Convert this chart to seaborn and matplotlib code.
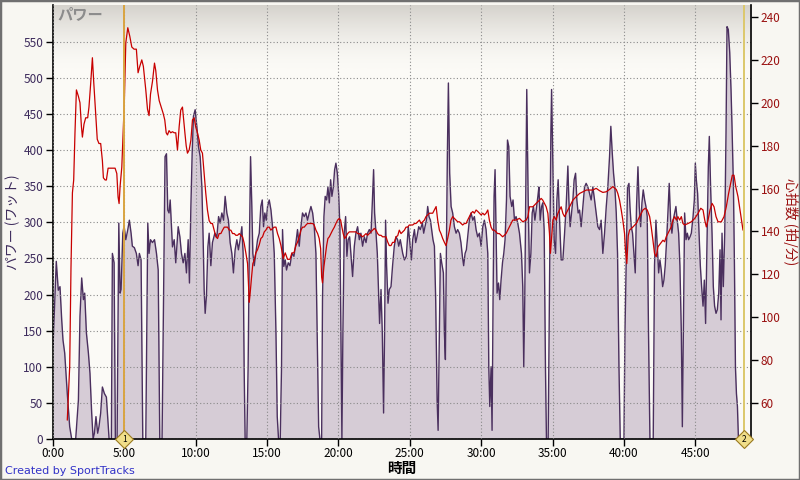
import numpy as np
import pandas as pd
import matplotlib
matplotlib.use('Agg')
import matplotlib.pyplot as plt
import seaborn as sns
from matplotlib.colors import LinearSegmentedColormap
from matplotlib.patches import Rectangle

sns.set_theme(style='white')
plt.rcParams['font.family'] = ['Noto Sans CJK JP', 'DejaVu Sans']
plt.rcParams['axes.unicode_minus'] = False

# ---- data (time in minutes) ----
power_min = [0.00, 0.23, 0.37, 0.49, 0.61, 0.70, 0.82, 1.00, 1.17, 1.31, 1.59, 1.78, 1.89, 2.01, 2.13, 2.22,
             2.34, 2.48, 2.59, 2.71, 2.81, 2.90, 3.01, 3.13, 3.22, 3.34, 3.46, 3.60, 3.74, 3.83, 3.93, 4.09,
             4.16, 4.28, 4.37, 4.49, 4.61, 4.70, 4.77, 4.89, 4.98, 5.10, 5.24, 5.35, 5.47, 5.56, 5.70, 5.84,
             5.96, 6.05, 6.17, 6.29, 6.50, 6.64, 6.73, 6.83, 6.97, 7.11, 7.25, 7.37, 7.48, 7.64, 7.76, 7.85,
             7.95, 8.04, 8.13, 8.21, 8.37, 8.49, 8.60, 8.77, 8.89, 9.00, 9.12, 9.24, 9.35, 9.47, 9.56, 9.66,
             9.75, 9.84, 9.96, 10.08, 10.19, 10.31, 10.43, 10.52, 10.59, 10.66, 10.75, 10.85, 10.94, 11.06,
             11.17, 11.34, 11.48, 11.60, 11.71, 11.83, 11.95, 12.06, 12.18, 12.29, 12.41, 12.53, 12.64, 12.76,
             12.88, 12.99, 13.11, 13.23, 13.32, 13.39, 13.46, 13.58, 13.67, 13.74, 13.84, 13.93, 14.00, 14.10,
             14.21, 14.33, 14.45, 14.56, 14.66, 14.75, 14.84, 14.94, 15.03, 15.15, 15.27, 15.38, 15.50, 15.62,
             15.71, 15.80, 15.92, 16.01, 16.08, 16.17, 16.27, 16.36, 16.48, 16.60, 16.74, 16.88, 17.02, 17.13,
             17.25, 17.37, 17.48, 17.60, 17.72, 17.83, 17.95, 18.07, 18.19, 18.30, 18.42, 18.51, 18.61, 18.70,
             18.82, 18.88, 18.98, 19.07, 19.17, 19.26, 19.36, 19.45, 19.54, 19.64, 19.73, 19.82, 19.92, 20.01,
             20.10, 20.17, 20.24, 20.31, 20.40, 20.50, 20.59, 20.68, 20.78, 20.87, 20.99, 21.11, 21.22, 21.34,
             21.46, 21.57, 21.69, 21.81, 21.93, 22.04, 22.16, 22.28, 22.37, 22.46, 22.53, 22.63, 22.72, 22.81,
             22.88, 22.98, 23.07, 23.16, 23.23, 23.30, 23.37, 23.47, 23.56, 23.68, 23.79, 23.91, 24.03, 24.14,
             24.22, 24.33, 24.50, 24.62, 24.75, 24.89, 25.00, 25.11, 25.20, 25.32, 25.41, 25.50, 25.62, 25.73,
             25.88, 25.97, 26.06, 26.16, 26.25, 26.34, 26.44, 26.53, 26.62, 26.72, 26.81, 26.91, 26.98, 27.07,
             27.14, 27.23, 27.35, 27.42, 27.49, 27.56, 27.63, 27.70, 27.79, 27.89, 28.00, 28.12, 28.24, 28.35,
             28.47, 28.58, 28.68, 28.77, 28.87, 28.96, 29.05, 29.17, 29.29, 29.41, 29.52, 29.64, 29.75, 29.87,
             29.99, 30.11, 30.22, 30.34, 30.46, 30.53, 30.60, 30.69, 30.76, 30.83, 30.90, 30.97, 31.04, 31.11,
             31.21, 31.30, 31.39, 31.49, 31.58, 31.67, 31.77, 31.84, 31.93, 32.02, 32.14, 32.23, 32.33, 32.44,
             32.56, 32.68, 32.82, 32.91, 32.98, 33.05, 33.12, 33.19, 33.29, 33.38, 33.48, 33.57, 33.66, 33.76,
             33.85, 33.97, 34.04, 34.13, 34.23, 34.31, 34.41, 34.50, 34.57, 34.69, 34.78, 34.88, 34.93, 35.02,
             35.11, 35.21, 35.30, 35.39, 35.49, 35.60, 35.72, 35.84, 35.95, 36.07, 36.14, 36.23, 36.33, 36.42,
             36.51, 36.61, 36.70, 36.79, 36.89, 37.00, 37.12, 37.24, 37.35, 37.47, 37.59, 37.70, 37.82, 37.94,
             38.05, 38.17, 38.29, 38.40, 38.52, 38.64, 38.76, 38.87, 38.99, 39.08, 39.18, 39.27, 39.36, 39.46,
             39.55, 39.65, 39.74, 40.00, 40.07, 40.16, 40.25, 40.35, 40.42, 40.51, 40.60, 40.70, 40.79, 40.88,
             40.98, 41.07, 41.17, 41.26, 41.35, 41.45, 41.54, 41.63, 41.72, 41.82, 42.05, 42.14, 42.24, 42.33,
             42.43, 42.52, 42.61, 42.71, 42.80, 42.89, 42.99, 43.08, 43.17, 43.27, 43.36, 43.45, 43.55, 43.64,
             43.73, 43.83, 43.92, 44.02, 44.09, 44.16, 44.25, 44.35, 44.44, 44.53, 44.63, 44.72, 44.84, 44.93,
             45.00, 45.07, 45.16, 45.26, 45.35, 45.44, 45.54, 45.63, 45.72, 45.82, 45.91, 45.98, 46.07, 46.17,
             46.26, 46.35, 46.45, 46.54, 46.64, 46.73, 46.80, 46.87, 46.96, 47.06, 47.15, 47.22, 47.31, 47.41,
             47.50, 47.57, 47.67, 47.74, 47.81, 47.88, 47.95, 48.02, 48.18]
power_w = [128, 246, 206, 211, 165, 137, 119, 63, 17, 0, 0, 54, 170, 223, 193, 202,
           147, 119, 91, 36, 0, 8, 31, 8, 17, 36, 72, 63, 58, 31, 0, 0,
           257, 244, 0, 0, 299, 202, 207, 285, 295, 276, 290, 303, 285, 267, 265, 257,
           240, 257, 248, 0, 0, 299, 257, 276, 272, 276, 257, 234, 0, 0, 230, 391,
           395, 317, 313, 331, 266, 276, 244, 294, 280, 257, 244, 257, 230, 276, 216, 322,
           396, 447, 456, 432, 405, 391, 349, 276, 206, 174, 198, 266, 285, 240,
           272, 285, 280, 308, 299, 313, 303, 336, 313, 303, 272, 257, 230, 262,
           276, 262, 276, 294, 257, 100, 0, 0, 100, 240, 391, 322, 257, 240,
           257, 276, 285, 322, 331, 294, 313, 303, 322, 331, 317, 294, 257, 147,
           31, 0, 0, 100, 290, 239, 248, 234, 244, 240, 257, 253, 272, 290,
           267, 294, 313, 308, 313, 303, 313, 322, 313, 294, 257, 147, 17, 0,
           0, 193, 308, 336, 331, 349, 327, 359, 336, 349, 373, 382, 368, 340,
           294, 147, 0, 147, 285, 308, 253, 276, 280, 257, 225, 267, 285, 294,
           276, 285, 267, 280, 272, 285, 290, 285, 327, 373, 313, 285, 257, 202,
           160, 207, 147, 36, 147, 303, 240, 188, 207, 211, 240, 267, 280, 276,
           267, 276, 257, 248, 253, 294, 272, 248, 276, 290, 272, 280, 294, 290,
           299, 285, 294, 303, 322, 308, 303, 290, 276, 267, 193, 54, 12, 147,
           257, 244, 230, 147, 110, 262, 396, 493, 368, 322, 313, 294, 285, 290,
           285, 272, 253, 240, 257, 262, 280, 303, 313, 303, 308, 290, 280, 285,
           267, 294, 303, 290, 257, 100, 45, 100, 12, 193, 336, 373, 285, 202,
           216, 193, 220, 244, 257, 276, 331, 414, 405, 336, 322, 331, 303, 308,
           299, 285, 257, 211, 100, 193, 331, 484, 331, 230, 257, 313, 322, 303,
           317, 336, 349, 303, 322, 327, 290, 100, 0, 0, 193, 424, 484, 378,
           276, 257, 331, 359, 303, 248, 248, 285, 322, 378, 331, 294, 313, 331,
           359, 368, 331, 313, 317, 294, 322, 349, 354, 349, 340, 331, 349, 331,
           313, 294, 290, 303, 257, 285, 322, 349, 391, 433, 396, 368, 349, 313,
           257, 100, 0, 0, 147, 248, 349, 354, 322, 294, 285, 257, 230, 322,
           377, 322, 294, 327, 345, 331, 322, 308, 147, 0, 0, 240, 303, 267,
           230, 248, 234, 211, 220, 240, 276, 313, 354, 303, 285, 303, 313, 322,
           303, 285, 240, 147, 17, 147, 313, 276, 285, 276, 280, 285, 308, 331,
           382, 359, 340, 285, 240, 211, 184, 220, 160, 276, 377, 419, 349, 285,
           211, 184, 174, 179, 202, 262, 165, 285, 211, 285, 424, 571, 567, 535,
           484, 433, 349, 240, 100, 63, 45, 0, 0]

hr_min = [1.00, 1.17, 1.26, 1.36, 1.45, 1.54, 1.64, 1.78, 1.89, 1.99, 2.06, 2.17, 2.29, 2.43, 2.52, 2.64,
          2.76, 2.85, 2.99, 3.10, 3.22, 3.34, 3.46, 3.53, 3.65, 3.74, 3.86, 4.35, 4.47, 4.56, 4.63, 4.70,
          4.82, 4.91, 5.00, 5.10, 5.24, 5.38, 5.52, 5.68, 5.84, 5.96, 6.08, 6.22, 6.33, 6.50, 6.62, 6.73,
          6.83, 6.97, 7.11, 7.20, 7.32, 7.44, 7.58, 7.72, 7.83, 7.93, 8.02, 8.13, 8.25, 8.37, 8.49, 8.60,
          8.72, 8.84, 8.95, 9.07, 9.14, 9.24, 9.33, 9.42, 9.54, 9.66, 9.77, 9.89, 10.00, 10.12, 10.24, 10.35,
          10.47, 10.59, 10.70, 10.82, 10.94, 11.06, 11.17, 11.29, 11.41, 11.53, 11.64, 11.76, 11.88, 12.00,
          12.23, 12.35, 12.46, 12.58, 12.70, 12.81, 12.93, 13.05, 13.16, 13.28, 13.39, 13.51, 13.63, 13.75,
          13.81, 13.91, 14.00, 14.10, 14.21, 14.33, 14.45, 14.56, 14.68, 14.80, 14.91, 15.03, 15.15, 15.26,
          15.38, 15.50, 15.62, 15.73, 15.85, 15.97, 16.13, 16.27, 16.43, 16.60, 16.74, 16.88, 17.02, 17.13,
          17.25, 17.37, 17.48, 17.60, 17.72, 17.83, 18.19, 18.30, 18.42, 18.54, 18.65, 18.75, 18.82, 18.88,
          18.98, 19.07, 19.17, 19.26, 19.36, 19.47, 19.59, 19.71, 19.82, 19.94, 20.05, 20.15, 20.24, 20.33,
          20.43, 20.52, 20.64, 20.76, 21.22, 21.34, 21.46, 21.57, 21.69, 21.81, 21.93, 22.04, 22.16, 22.28,
          22.40, 22.51, 22.63, 22.74, 22.86, 22.98, 23.09, 23.33, 23.44, 23.56, 23.68, 23.79, 23.91, 24.03,
          24.15, 24.26, 24.38, 24.50, 24.62, 24.73, 24.85, 24.96, 25.20, 25.32, 25.43, 25.55, 25.67, 25.78,
          25.90, 26.02, 26.13, 26.25, 26.37, 26.60, 26.72, 26.84, 26.95, 27.07, 27.18, 27.30, 27.42, 27.53,
          27.65, 27.77, 27.88, 28.00, 28.12, 28.24, 28.35, 28.47, 28.59, 28.70, 28.82, 28.94, 29.05, 29.17,
          29.29, 29.41, 29.52, 29.64, 29.76, 29.87, 29.99, 30.11, 30.22, 30.34, 30.46, 30.57, 30.69, 30.80,
          30.92, 31.04, 31.15, 31.27, 31.39, 31.50, 31.62, 31.74, 31.86, 31.97, 32.09, 32.21, 32.44, 32.68,
          32.91, 33.15, 33.27, 33.38, 33.62, 33.85, 34.09, 34.20, 34.31, 34.43, 34.55, 34.67, 34.78, 34.85,
          34.95, 35.02, 35.13, 35.25, 35.37, 35.48, 35.60, 35.72, 35.84, 35.95, 36.07, 36.19, 36.42, 36.65,
          36.89, 37.12, 37.36, 37.82, 38.05, 38.29, 38.52, 38.76, 38.99, 39.22, 39.46, 39.57, 39.69, 39.81,
          39.92, 40.04, 40.10, 40.20, 40.30, 40.39, 40.63, 40.86, 41.09, 41.33, 41.49, 41.63, 41.80, 41.91,
          42.03, 42.14, 42.26, 42.38, 42.56, 42.73, 42.85, 42.96, 43.08, 43.20, 43.31, 43.43, 43.55, 43.67,
          43.78, 43.90, 44.02, 44.13, 44.25, 44.49, 44.72, 44.96, 45.19, 45.38, 45.54, 45.66, 45.77, 45.89,
          46.03, 46.17, 46.31, 46.45, 46.59, 46.82, 47.01, 47.17, 47.33, 47.47, 47.59, 47.71, 47.83, 47.99,
          48.13, 48.27, 48.34]
hr_bpm = [52, 77, 123, 158, 164, 186, 206, 203, 200, 189, 184, 190, 193, 193, 198, 209,
          221, 210, 195, 183, 181, 181, 173, 165, 164, 164, 169.5, 169.5, 167, 156, 153, 161,
          170, 186, 201, 228, 235, 231, 226, 225, 225, 214, 217, 220, 217, 206, 197, 194,
          204, 210, 218.5, 215, 206, 201, 198, 195, 192, 186, 185, 187, 186, 186.5, 186, 186,
          178, 189, 196.6, 198, 193, 186, 180, 176.5, 178, 182.6, 192, 193, 188.7, 186, 182.6, 178,
          176.5, 167, 158, 150, 145, 143.7, 143.7, 140.6, 137.5, 136.7, 139, 139, 140.6, 142,
          142, 140.6, 140.6, 139, 139, 138.2, 138.2, 139, 138.2, 137.5, 134.6, 130, 125, 107,
          111, 118.7, 125, 126.7, 130, 131.5, 133.8, 136.7, 137.5, 139.8, 140.6, 142, 142, 140.6,
          141.4, 142, 142, 139, 136.7, 133.4, 127.4, 130, 127, 127, 130, 130, 133.4, 135,
          137.5, 140.6, 142, 142, 143, 143.7, 143.7, 143, 140.6, 139, 136.7, 132, 118.7, 116,
          123.6, 128.3, 133.4, 136.7, 137.5, 139, 140.6, 142, 143.7, 145.3, 146, 145.3, 142, 139,
          136.7, 137.5, 139, 139.8, 139.8, 139, 139, 138.2, 137.5, 138.2, 139, 138.2, 139, 139.8,
          140.6, 141.4, 140.6, 139, 138.2, 138.2, 137.5, 137.5, 135.2, 133.4, 133.4, 134.9, 134.9, 137.5,
          138, 140.6, 139, 139.8, 140.6, 142, 142, 143, 143, 143.7, 143.7, 144.5, 145.3, 143.7,
          144.5, 145.3, 146.9, 147.7, 148.5, 148.5, 150, 151.6, 145.3, 140.6, 139, 136.7, 134.9, 133.4,
          136.7, 140.6, 145.3, 146.9, 146.1, 145.3, 144.5, 144.5, 143.7, 143, 143.7, 143.7, 145.3, 146.9,
          148.5, 149.3, 148.5, 150, 149.3, 148.5, 147.7, 148.5, 147.7, 148.5, 150, 145.3, 142, 140.6,
          140.6, 139.8, 139, 139, 138.2, 137.5, 138.2, 139, 140.6, 142, 143.7, 145.3, 145.3, 146.1,
          144.5, 145.3, 146.9, 151.5, 151.5, 153.1, 154.6, 155.4, 154.6, 153.1, 151.5, 148.4, 139.1, 129.8,
          139.1, 145.3, 146.9, 145.3, 148.4, 150, 151.5, 148.4, 146.9, 148.4, 150, 151.5, 154.6, 156.2,
          157.7, 158.5, 159.3, 159.3, 160.1, 159, 158.2, 158.5, 159.6, 160.9, 159.6, 157.7, 154.6, 150,
          145.3, 139.1, 132, 125, 138, 140.6, 142.1, 143.7, 146.9, 150, 150.8, 150, 146.9, 142.1,
          135.9, 129.8, 128.2, 132.8, 134.4, 135.9, 135.2, 137.5, 139.1, 140.6, 142.1, 145.3, 146.9, 145.3,
          146.9, 145.3, 146.9, 143.7, 143, 143.7, 144.5, 146.1, 148.4, 150.8, 150, 145.3, 142.1, 145.3,
          150, 153.1, 151.5, 146.9, 144.5, 144.5, 146.9, 151.5, 157.7, 162.3, 166.2, 166.2, 160.9, 156.2,
          150, 143.7, 140.6]

x_ticks = [0, 5, 10, 15, 20, 25, 30, 35, 40, 45]
x_labels = ['0:00', '5:00', '10:00', '15:00', '20:00', '25:00', '30:00', '35:00', '40:00', '45:00']
power_ticks = [0, 50, 100, 150, 200, 250, 300, 350, 400, 450, 500, 550]
hr_ticks = [60, 80, 100, 120, 140, 160, 180, 200, 220, 240]
lap_min = [5.0, 48.4]
lap_names = ['1', '2']

pw = pd.DataFrame({'min': power_min, 'watt': power_w})
hr = pd.DataFrame({'min': hr_min, 'bpm': hr_bpm})

purple = '#3d2b5c'
red_txt = '#9a1010'

fig = plt.figure(figsize=(8, 4.8), dpi=100, facecolor='#f8f7f2')
ax = fig.add_axes([53 / 800, 41 / 480, 698 / 800, 434 / 480])
ax.set_facecolor('#fbfaf6')

# grey fade at the top of the plot
grad = np.linspace(0, 1, 100).reshape(-1, 1) ** 1.6
cmap = LinearSegmentedColormap.from_list('fade', ['#fbfaf6', '#d4d1cb'])
ax.imshow(grad, extent=[0, 1, 0.85, 1], transform=ax.transAxes, cmap=cmap,
          aspect='auto', origin='lower', zorder=0)

ax.fill_between(pw['min'], pw['watt'], color='#d6ccd6', lw=0, zorder=1)
sns.lineplot(data=pw, x='min', y='watt', ax=ax, color='#4a2f5e', lw=1.0,
             sort=False, estimator=None, zorder=2)

ax.set_xlim(0, 48.9)
ax.set_ylim(0, 601)
ax.set_xticks(x_ticks)
ax.set_xticklabels(x_labels)
ax.set_yticks(power_ticks)
ax.grid(True, ls=(0, (1, 2)), color='#8a8a8a', lw=0.8)
ax.set_axisbelow(False)
ax.tick_params(axis='both', direction='out', length=5, width=1, color='black',
               labelsize=8.5, pad=2, left=True, bottom=True)
ax.tick_params(axis='x', labelcolor='black', pad=1)
ax.tick_params(axis='y', labelcolor=purple)
ax.set_ylabel('パワー (ワット)', color=purple, fontsize=10, va='center')
ax.yaxis.set_label_coords(-0.058, 0.5)
ax.set_xlabel('時間', color='black', fontsize=10.5, fontweight='bold', va='center')
ax.xaxis.set_label_coords(0.5, -0.066)
for s in ['top', 'right']:
    ax.spines[s].set_visible(False)
for s in ['left', 'bottom']:
    ax.spines[s].set_color('black')
    ax.spines[s].set_linewidth(1.2)

ax2 = ax.twinx()
sns.lineplot(data=hr, x='min', y='bpm', ax=ax2, color='#c80000', lw=0.9,
             sort=False, estimator=None, zorder=3)
ax2.set_ylim(43.2, 245.6)
ax2.set_yticks(hr_ticks)
ax2.tick_params(axis='y', direction='out', length=5, width=1, color='black',
                labelsize=8.5, labelcolor=red_txt, pad=2, right=True)
ax2.set_ylabel('心拍数 (拍/分)', color=red_txt, fontsize=10, rotation=270, va='center')
ax2.yaxis.set_label_coords(1.057, 0.5)
ax2.set_xlabel('')
for s in ['top', 'left', 'bottom']:
    ax2.spines[s].set_visible(False)
ax2.spines['right'].set_color('black')
ax2.spines['right'].set_linewidth(1.2)

# lap markers
ax2.axvline(lap_min[0], color='#d9a441', lw=1.4, zorder=4)
ax2.axvline(lap_min[1], color='#dcc86c', lw=1.4, zorder=4)
for t, name in zip(lap_min, lap_names):
    ax2.plot([t], [43.2], marker='D', ms=9, mfc='#f0de8a', mec='#9a7a20', mew=0.8,
             clip_on=False, zorder=6)
    ax2.text(t, 43.2, name, fontsize=6, ha='center', va='center', color='black',
             zorder=7, clip_on=False)

fig.text(57 / 800, 1 - 14 / 480, 'パワー', fontsize=11, style='italic', fontweight='bold',
         color='#8c8c8c', va='center', ha='left')
fig.text(5 / 800, 1 - 471 / 480, 'Created by SportTracks', fontsize=8, color='#3333c8',
         va='center', ha='left', family=['DejaVu Sans'])
fig.patches.append(Rectangle((0, 0), 1, 1, transform=fig.transFigure, fill=False,
                             edgecolor='#707070', lw=2.5))

fig.savefig('out.png', dpi=100, facecolor=fig.get_facecolor())
